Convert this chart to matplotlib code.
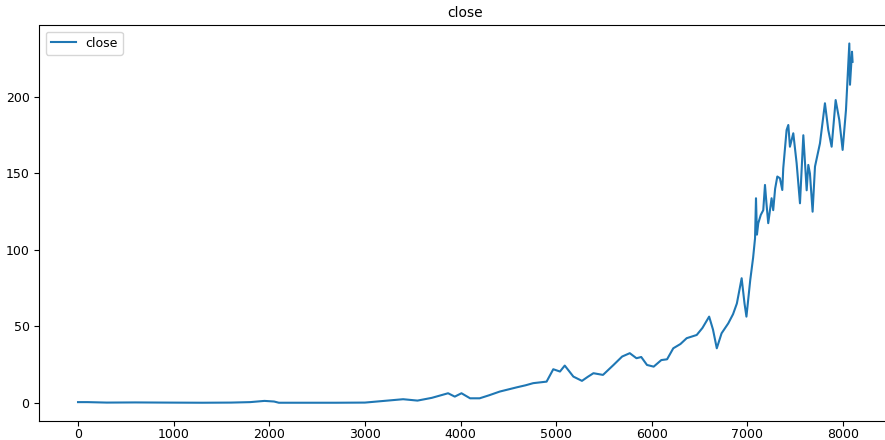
import matplotlib
matplotlib.use('Agg')
import matplotlib.pyplot as plt

# row index and close price
idx = [0, 100, 300, 600, 900, 1300, 1600, 1800, 1950, 2050, 2100, 2400, 2700,
       3000, 3200, 3400, 3550, 3700, 3870, 3940, 4010, 4100, 4200, 4300, 4410,
       4500, 4590, 4680, 4760, 4900, 4970, 5040, 5090, 5180, 5270, 5330, 5390,
       5490, 5600, 5690, 5770, 5840, 5890, 5950, 6020, 6100, 6160, 6225, 6300,
       6365, 6470, 6530, 6600, 6640, 6680, 6730, 6800, 6850, 6890, 6940, 6970,
       6990, 7030, 7060, 7080, 7090, 7100, 7114, 7140, 7166, 7184, 7200, 7218,
       7253, 7270, 7290, 7313, 7340, 7365, 7375, 7410, 7428, 7445, 7480, 7515,
       7550, 7585, 7620, 7637, 7654, 7682, 7707, 7759, 7811, 7846, 7881, 7923,
       7961, 7996, 8031, 8066, 8073, 8094, 8100]
close = [0.5, 0.5, 0.2, 0.3, 0.2, 0.1, 0.2, 0.5, 1.3, 0.9, 0.1, 0.1, 0.1,
         0.2, 1.3, 2.4, 1.5, 3.3, 6.3, 4.1, 6.3, 3.0, 3.0, 5.0, 7.4,
         8.8, 10.2, 11.5, 12.9, 13.9, 22.0, 20.5, 24.4, 17.2, 14.4, 17.0, 19.4,
         18.3, 24.8, 30.3, 32.5, 29.2, 30.0, 24.8, 23.7, 28.0, 28.5, 35.7, 38.5,
         42.3, 44.4, 49.0, 56.4, 48.0, 35.7, 45.5, 52.0, 58.0, 65.0, 81.5, 65.0,
         56.4, 80.4, 95.0, 107.6, 133.8, 110.0, 117.5, 122.9, 126.0, 142.5, 130.0, 117.5,
         133.8, 126.0, 140.0, 148.0, 146.9, 139.2, 153.4, 178.4, 181.7, 167.5, 176.3, 156.7,
         130.5, 175.0, 139.0, 155.6, 150.0, 125.0, 154.5, 169.7, 195.9, 178.4, 167.5, 198.0,
         185.0, 165.4, 191.5, 235.0, 208.0, 229.6, 223.0]

fig = plt.figure(figsize=(8.85, 4.4), dpi=100)
ax = fig.add_axes([39.3 / 885, 19.3 / 440, 852 / 885, 395.2 / 440])
ax.plot(idx, close, color='#1f77b4', linewidth=1.5, label='close')
ax.set_title('close', fontsize=10)
ax.legend(loc='upper left', fontsize=9)
ax.tick_params(labelsize=9)
ax.tick_params(axis='x', pad=2)

fig.savefig('out.png', dpi=100)
